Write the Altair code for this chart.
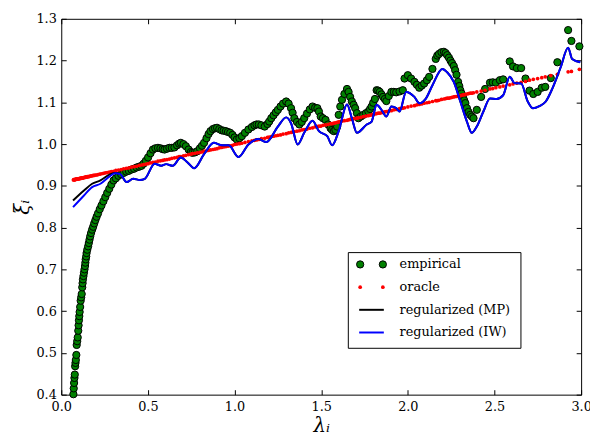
import altair as alt
import pandas as pd

# ---------------- data ----------------
emp_lam = [0.070, 0.072, 0.074, 0.076, 0.078, 0.080, 0.082, 0.084, 0.087, 0.089,
           0.092, 0.095, 0.098, 0.100, 0.102, 0.104, 0.106, 0.109, 0.112, 0.115,
           0.118, 0.121, 0.123, 0.125, 0.128, 0.131, 0.134, 0.137, 0.139, 0.141,
           0.144, 0.146, 0.150, 0.155, 0.159, 0.163, 0.167, 0.172, 0.178, 0.184,
           0.190, 0.197, 0.204, 0.212, 0.222, 0.232, 0.243, 0.254, 0.265, 0.277,
           0.289, 0.302, 0.315, 0.330, 0.345, 0.360, 0.375, 0.390, 0.405, 0.420,
           0.435, 0.450, 0.463, 0.475, 0.488, 0.501, 0.515, 0.529, 0.543, 0.558,
           0.572, 0.585, 0.596, 0.610, 0.624, 0.638, 0.653, 0.668, 0.680, 0.690,
           0.705, 0.719, 0.735, 0.748, 0.757, 0.771, 0.785, 0.800, 0.812, 0.824,
           0.838, 0.850, 0.861, 0.875, 0.887, 0.899, 0.912, 0.925, 0.937, 0.950,
           0.962, 0.975, 0.988, 1.000, 1.013, 1.028, 1.042, 1.060, 1.080, 1.100,
           1.115, 1.127, 1.140, 1.155, 1.174, 1.190, 1.200, 1.212, 1.225, 1.238,
           1.250, 1.265, 1.280, 1.298, 1.312, 1.326, 1.335, 1.345, 1.360, 1.374,
           1.388, 1.402, 1.418, 1.434, 1.450, 1.465, 1.478, 1.487, 1.497, 1.510,
           1.525, 1.540, 1.554, 1.563, 1.573, 1.582, 1.592, 1.601, 1.610, 1.620,
           1.634, 1.649, 1.658, 1.667, 1.677, 1.687, 1.696, 1.706, 1.715, 1.729,
           1.743, 1.758, 1.772, 1.782, 1.791, 1.800, 1.810, 1.820, 1.829, 1.838,
           1.848, 1.857, 1.867, 1.876, 1.890, 1.905, 1.919, 1.933, 1.952, 1.971,
           1.981, 2.000, 2.019, 2.038, 2.052, 2.066, 2.080, 2.094, 2.110, 2.123,
           2.142, 2.161, 2.170, 2.180, 2.194, 2.208, 2.218, 2.227, 2.237, 2.246,
           2.255, 2.265, 2.273, 2.281, 2.290, 2.297, 2.303, 2.310, 2.318, 2.325,
           2.332, 2.341, 2.350, 2.360, 2.370, 2.379, 2.398, 2.423, 2.446, 2.474,
           2.490, 2.508, 2.531, 2.550, 2.588, 2.607, 2.629, 2.654, 2.679, 2.702,
           2.724, 2.749, 2.773, 2.793, 2.825, 2.863, 2.925, 2.944, 2.990]

emp_val = [0.401, 0.415, 0.428, 0.440, 0.448, 0.468, 0.476, 0.483, 0.495, 0.519,
           0.528, 0.537, 0.553, 0.566, 0.578, 0.588, 0.598, 0.610, 0.625, 0.633,
           0.641, 0.657, 0.667, 0.676, 0.684, 0.692, 0.700, 0.708, 0.716, 0.724,
           0.731, 0.739, 0.747, 0.755, 0.763, 0.771, 0.779, 0.787, 0.795, 0.802,
           0.810, 0.818, 0.826, 0.834, 0.844, 0.853, 0.863, 0.873, 0.883, 0.893,
           0.903, 0.913, 0.918, 0.924, 0.928, 0.931, 0.934, 0.936, 0.939, 0.941,
           0.944, 0.946, 0.948, 0.953, 0.960, 0.968, 0.978, 0.987, 0.990, 0.991,
           0.990, 0.988, 0.987, 0.989, 0.991, 0.991, 0.992, 0.997, 1.001, 1.003,
           1.000, 0.995, 0.987, 0.981, 0.979, 0.980, 0.983, 0.990, 0.996, 1.003,
           1.014, 1.024, 1.031, 1.036, 1.038, 1.039, 1.036, 1.033, 1.032, 1.031,
           1.029, 1.027, 1.022, 1.016, 1.011, 1.014, 1.019, 1.027, 1.035, 1.041,
           1.045, 1.047, 1.047, 1.045, 1.042, 1.048, 1.054, 1.062, 1.069, 1.076,
           1.082, 1.090, 1.097, 1.102, 1.097, 1.086, 1.075, 1.062, 1.053, 1.047,
           1.053, 1.062, 1.073, 1.083, 1.090, 1.087, 1.086, 1.078, 1.066, 1.062,
           1.058, 1.047, 1.038, 1.034, 1.031, 1.034, 1.042, 1.070, 1.090, 1.106,
           1.120, 1.132, 1.125, 1.113, 1.102, 1.094, 1.086, 1.074, 1.062, 1.066,
           1.070, 1.074, 1.078, 1.084, 1.090, 1.099, 1.108, 1.129, 1.128, 1.125,
           1.119, 1.113, 1.108, 1.103, 1.115, 1.125, 1.125, 1.124, 1.126, 1.129,
           1.157, 1.165, 1.157, 1.149, 1.142, 1.135, 1.140, 1.145, 1.153, 1.161,
           1.180, 1.204, 1.212, 1.216, 1.220, 1.221, 1.218, 1.213, 1.207, 1.200,
           1.194, 1.187, 1.177, 1.166, 1.149, 1.139, 1.129, 1.121, 1.113, 1.105,
           1.098, 1.086, 1.077, 1.070, 1.066, 1.062, 1.082, 1.113, 1.132, 1.147,
           1.148, 1.147, 1.153, 1.155, 1.198, 1.186, 1.182, 1.182, 1.157, 1.128,
           1.120, 1.125, 1.135, 1.137, 1.158, 1.196, 1.273, 1.247, 1.234]

oracle_val = [0.914, 0.915, 0.915, 0.915, 0.915, 0.915, 0.915, 0.916, 0.916, 0.916,
              0.916, 0.917, 0.917, 0.917, 0.917, 0.917, 0.918, 0.918, 0.918, 0.918,
              0.919, 0.919, 0.919, 0.919, 0.920, 0.920, 0.920, 0.920, 0.921, 0.921,
              0.921, 0.921, 0.922, 0.922, 0.922, 0.923, 0.923, 0.924, 0.924, 0.925,
              0.925, 0.926, 0.926, 0.927, 0.928, 0.929, 0.930, 0.931, 0.932, 0.933,
              0.934, 0.935, 0.937, 0.938, 0.939, 0.941, 0.942, 0.943, 0.945, 0.946,
              0.947, 0.949, 0.950, 0.951, 0.952, 0.953, 0.955, 0.956, 0.957, 0.959,
              0.960, 0.961, 0.962, 0.963, 0.964, 0.966, 0.967, 0.968, 0.970, 0.970,
              0.972, 0.973, 0.975, 0.976, 0.977, 0.978, 0.979, 0.980, 0.981, 0.983,
              0.984, 0.985, 0.986, 0.987, 0.988, 0.989, 0.991, 0.992, 0.993, 0.994,
              0.995, 0.996, 0.997, 0.999, 1.000, 1.001, 1.002, 1.004, 1.006, 1.008,
              1.009, 1.010, 1.011, 1.013, 1.014, 1.016, 1.017, 1.018, 1.019, 1.020,
              1.021, 1.022, 1.024, 1.025, 1.027, 1.028, 1.029, 1.030, 1.031, 1.032,
              1.034, 1.035, 1.036, 1.038, 1.039, 1.041, 1.042, 1.043, 1.043, 1.045,
              1.046, 1.047, 1.049, 1.049, 1.050, 1.051, 1.052, 1.053, 1.054, 1.055,
              1.056, 1.057, 1.058, 1.059, 1.060, 1.061, 1.061, 1.062, 1.063, 1.064,
              1.066, 1.067, 1.068, 1.069, 1.070, 1.071, 1.072, 1.073, 1.074, 1.074,
              1.075, 1.076, 1.077, 1.078, 1.079, 1.080, 1.082, 1.083, 1.085, 1.086,
              1.087, 1.089, 1.091, 1.092, 1.094, 1.095, 1.096, 1.098, 1.099, 1.100,
              1.102, 1.104, 1.104, 1.105, 1.107, 1.108, 1.109, 1.110, 1.110, 1.111,
              1.112, 1.113, 1.114, 1.114, 1.115, 1.116, 1.116, 1.117, 1.118, 1.118,
              1.119, 1.120, 1.121, 1.122, 1.122, 1.123, 1.125, 1.127, 1.129, 1.132,
              1.133, 1.135, 1.137, 1.139, 1.142, 1.144, 1.146, 1.148, 1.150, 1.153,
              1.155, 1.157, 1.159, 1.161, 1.164, 1.167, 1.173, 1.174, 1.179]

line_lam = [0.068, 0.131, 0.178, 0.226, 0.283, 0.311, 0.340, 0.377, 0.415, 0.454,
            0.482, 0.539, 0.577, 0.605, 0.643, 0.690, 0.729, 0.767, 0.824, 0.880,
            0.928, 0.966, 1.023, 1.080, 1.137, 1.184, 1.250, 1.298, 1.326, 1.364,
            1.402, 1.450, 1.487, 1.535, 1.563, 1.601, 1.649, 1.677, 1.706, 1.763,
            1.791, 1.820, 1.848, 1.876, 1.905, 1.933, 1.952, 1.990, 2.038, 2.066,
            2.104, 2.142, 2.199, 2.227, 2.265, 2.303, 2.341, 2.369, 2.398, 2.436,
            2.474, 2.512, 2.550, 2.588, 2.616, 2.654, 2.692, 2.721, 2.759, 2.796,
            2.834, 2.882, 2.925, 2.948, 2.995]

mp_val = [0.865, 0.889, 0.905, 0.913, 0.928, 0.931, 0.928, 0.909, 0.917, 0.914,
          0.917, 0.953, 0.948, 0.952, 0.948, 0.968, 0.956, 0.942, 0.976, 1.003,
          0.997, 0.997, 0.969, 0.999, 1.012, 1.005, 1.042, 1.064, 1.050, 0.999,
          1.027, 1.056, 1.031, 1.019, 0.997, 1.031, 1.095, 1.062, 1.027, 1.047,
          1.054, 1.094, 1.082, 1.066, 1.090, 1.086, 1.078, 1.125, 1.113, 1.098,
          1.109, 1.141, 1.180, 1.172, 1.149, 1.102, 1.054, 1.027, 1.042, 1.078,
          1.109, 1.108, 1.117, 1.161, 1.146, 1.145, 1.102, 1.086, 1.091, 1.102,
          1.133, 1.184, 1.231, 1.204, 1.196]

iw_val = [0.849, 0.877, 0.897, 0.905, 0.924, 0.930, 0.928, 0.909, 0.917, 0.914,
          0.917, 0.953, 0.948, 0.952, 0.948, 0.968, 0.956, 0.942, 0.976, 1.003,
          0.997, 0.997, 0.969, 0.999, 1.012, 1.005, 1.042, 1.064, 1.050, 0.999,
          1.027, 1.056, 1.031, 1.019, 0.997, 1.031, 1.095, 1.062, 1.027, 1.047,
          1.054, 1.094, 1.082, 1.066, 1.090, 1.086, 1.078, 1.125, 1.113, 1.098,
          1.109, 1.141, 1.180, 1.172, 1.149, 1.102, 1.054, 1.027, 1.042, 1.078,
          1.109, 1.108, 1.117, 1.161, 1.146, 1.145, 1.102, 1.086, 1.091, 1.102,
          1.133, 1.184, 1.231, 1.204, 1.196]

x_ticks = [0.0, 0.5, 1.0, 1.5, 2.0, 2.5, 3.0]
y_ticks = [0.4, 0.5, 0.6, 0.7, 0.8, 0.9, 1.0, 1.1, 1.2, 1.3]
legend_labels = ["empirical", "oracle", "regularized (MP)", "regularized (IW)"]

# ---------------- chart ----------------
FONT = "DejaVu Serif"
GREEN = "#008000"

emp_df = pd.DataFrame({"lam": emp_lam, "xi": emp_val})
orc_df = pd.DataFrame({"lam": emp_lam, "xi": oracle_val})
line_df = pd.DataFrame({"lam": line_lam, "mp": mp_val, "iw": iw_val})

xscale = alt.Scale(domain=[0, 3], nice=False, zero=False)
yscale = alt.Scale(domain=[0.4, 1.3], nice=False, zero=False)

common = dict(offset=-5, tickSize=5, domain=False, grid=False,
              tickColor="black", tickWidth=1, labelFlush=False, labelOverlap=False)

bottom_axis = alt.Axis(orient="bottom", values=x_ticks, format=".1f",
                       labelFont=FONT, labelFontSize=13, labelColor="black",
                       labelPadding=6, title="λᵢ", titleFont=FONT, titleFontSize=20,
                       titleFontWeight="normal", titleFontStyle="italic",
                       titleColor="black", titlePadding=2, **common)
left_axis = alt.Axis(orient="left", values=y_ticks, format=".1f",
                     labelFont=FONT, labelFontSize=13, labelColor="black",
                     labelPadding=5, title="ξᵢ", titleFont=FONT, titleFontSize=20,
                     titleFontWeight="normal", titleFontStyle="italic",
                     titleColor="black", titlePadding=4, **common)
top_axis = alt.Axis(orient="top", values=x_ticks, labels=False, title=None, **common)
right_axis = alt.Axis(orient="right", values=y_ticks, labels=False, title=None, **common)

emp = alt.Chart(emp_df).mark_circle(size=54, color=GREEN, stroke="black",
                                    strokeWidth=1, opacity=1).encode(
    x=alt.X("lam:Q", scale=xscale, axis=bottom_axis),
    y=alt.Y("xi:Q", scale=yscale, axis=left_axis),
)

orc = alt.Chart(orc_df).mark_circle(size=14, color="#ff0000", opacity=1).encode(
    x=alt.X("lam:Q", scale=xscale, axis=top_axis),
    y=alt.Y("xi:Q", scale=yscale, axis=right_axis),
)

mp = alt.Chart(line_df).mark_line(color="black", strokeWidth=2, interpolate="monotone").encode(
    x=alt.X("lam:Q", scale=xscale, axis=None),
    y=alt.Y("mp:Q", scale=yscale, axis=None),
)

iw = alt.Chart(line_df).mark_line(color="#0000ff", strokeWidth=2, interpolate="monotone").encode(
    x=alt.X("lam:Q", scale=xscale, axis=None),
    y=alt.Y("iw:Q", scale=yscale, axis=None),
)

# ---------------- legend (decoration) ----------------
one = pd.DataFrame({"k": [0]})
box = alt.Chart(one).mark_rect(fill="white", stroke="black", strokeWidth=1).encode(
    x=alt.value(291), x2=alt.value(466), y=alt.value(237), y2=alt.value(334))

row_y = [249, 272, 295, 318]
leg = [box]
for xv in (303, 326):
    leg.append(alt.Chart(one).mark_circle(size=54, color=GREEN, stroke="black",
                                          strokeWidth=1, opacity=1).encode(
        x=alt.value(xv), y=alt.value(row_y[0])))
    leg.append(alt.Chart(one).mark_circle(size=14, color="#ff0000", opacity=1).encode(
        x=alt.value(xv), y=alt.value(row_y[1])))
leg.append(alt.Chart(one).mark_rule(color="black", strokeWidth=2).encode(
    x=alt.value(302), x2=alt.value(327), y=alt.value(row_y[2])))
leg.append(alt.Chart(one).mark_rule(color="#0000ff", strokeWidth=2).encode(
    x=alt.value(302), x2=alt.value(327), y=alt.value(row_y[3])))
for i, lab in enumerate(legend_labels):
    leg.append(alt.Chart(pd.DataFrame({"label": [lab]})).mark_text(
        align="left", baseline="middle", font=FONT, fontSize=13, color="black").encode(
        x=alt.value(343), y=alt.value(row_y[i]), text="label:N"))

chart = alt.layer(emp, orc, mp, iw, *leg).resolve_axis(
    x="independent", y="independent"
).properties(
    width=527, height=381,
    padding={"left": 54, "top": 8, "right": 9, "bottom": 42},
    autosize=alt.AutoSizeParams(type="none"),
    background="white",
).configure_view(stroke="black", strokeWidth=1)

chart.save("out.html", embed_options={"renderer": "svg", "actions": False})
